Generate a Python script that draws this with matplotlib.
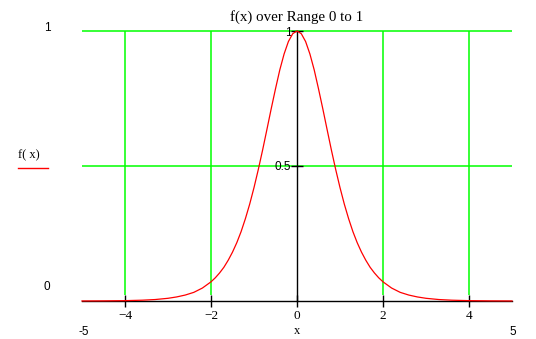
import matplotlib
matplotlib.use('Agg')
import matplotlib.pyplot as plt

# values (peak 1 at x=0, tails ~0 beyond |x|=4)
xs = [-5, -4.5, -4, -3.6, -3.3, -3, -2.8, -2.6, -2.4, -2.2, -2,
      -1.9, -1.8, -1.7, -1.6, -1.5, -1.4, -1.3, -1.2, -1.1, -1,
      -0.9, -0.8, -0.7, -0.6, -0.5, -0.4, -0.3, -0.2, -0.1, 0,
      0.1, 0.2, 0.3, 0.4, 0.5, 0.6, 0.7, 0.8, 0.9, 1,
      1.1, 1.2, 1.3, 1.4, 1.5, 1.6, 1.7, 1.8, 1.9, 2,
      2.2, 2.4, 2.6, 2.8, 3, 3.3, 3.6, 4, 4.5, 5]
fx = [0.0002, 0.0005, 0.0013, 0.003, 0.0054, 0.010, 0.015, 0.022, 0.032, 0.048, 0.071,
      0.086, 0.104, 0.125, 0.151, 0.181, 0.216, 0.257, 0.305, 0.359, 0.420,
      0.487, 0.559, 0.635, 0.712, 0.786, 0.856, 0.915, 0.961, 0.990, 1.0,
      0.990, 0.961, 0.915, 0.856, 0.786, 0.712, 0.635, 0.559, 0.487, 0.420,
      0.359, 0.305, 0.257, 0.216, 0.181, 0.151, 0.125, 0.104, 0.086, 0.071,
      0.048, 0.032, 0.022, 0.015, 0.010, 0.0054, 0.003, 0.0013, 0.0005, 0.0002]

x_ticks = [-4, -2, 0, 2, 4]
y_ticks = [0.5, 1]
y_tick_labels = ['0.5', '1']
grid_x = [-4, -2, 2, 4]
grid_y = [0.5, 1]
title = 'f(x) over Range 0 to 1'

W, H = 536, 339
fig = plt.figure(figsize=(W / 100, H / 100), dpi=100)
ax = fig.add_axes([82 / W, 1 - 301 / H, 430 / W, 270 / H])
ax.set_xlim(-5, 5)
ax.set_ylim(0, 1)

green = '#00ff00'
ax.vlines(grid_x, 0.022, 1, color=green, lw=1.1, zorder=1, clip_on=False)
ax.hlines(grid_y, -5, 5, color=green, lw=1.1, zorder=1, clip_on=False)

for s in ['top', 'right']:
    ax.spines[s].set_visible(False)
ax.spines['left'].set_position(('data', 0))
ax.spines['left'].set_linewidth(1)
ax.spines['bottom'].set_linewidth(1)
ax.spines['left'].set_zorder(2)
ax.spines['bottom'].set_zorder(2)

ax.set_xticks(x_ticks)
ax.set_xticklabels([str(v).replace('-', '\u2212') for v in x_ticks],
                   family='Liberation Serif', fontsize=9.5)
ax.set_yticks(y_ticks)
ax.set_yticklabels(y_tick_labels, family='Liberation Sans', fontsize=8.5)
ax.tick_params(axis='x', direction='inout', length=8.5, width=1, pad=2)
ax.tick_params(axis='y', direction='inout', length=8, width=1, pad=0)

ax.plot(xs, fx, color='#ff0000', lw=0.9, zorder=3, clip_on=False)

fig.text(297 / W, 1 - 17 / H, title, ha='center', va='center',
         family='Liberation Serif', fontsize=10.8)
fig.text(47 / W, 1 - 28 / H, '1', ha='center', va='center',
         family='Liberation Sans', fontsize=8.5)
fig.text(47 / W, 1 - 287 / H, '0', ha='center', va='center',
         family='Liberation Sans', fontsize=8.5)
fig.text(84 / W, 1 - 332 / H, '-5', ha='center', va='center',
         family='Liberation Sans', fontsize=8.5)
fig.text(513 / W, 1 - 332 / H, '5', ha='center', va='center',
         family='Liberation Sans', fontsize=8.5)
fig.text(297 / W, 1 - 331 / H, 'x', ha='center', va='center',
         family='Liberation Serif', fontsize=9)
fig.text(29 / W, 1 - 155 / H, 'f( x)', ha='center', va='center',
         family='Liberation Serif', fontsize=9)
fig.add_artist(plt.Line2D([18 / W, 48 / W], [1 - 168 / H, 1 - 168 / H],
                          color='#ff0000', lw=1))

fig.savefig('out.png', dpi=100)
